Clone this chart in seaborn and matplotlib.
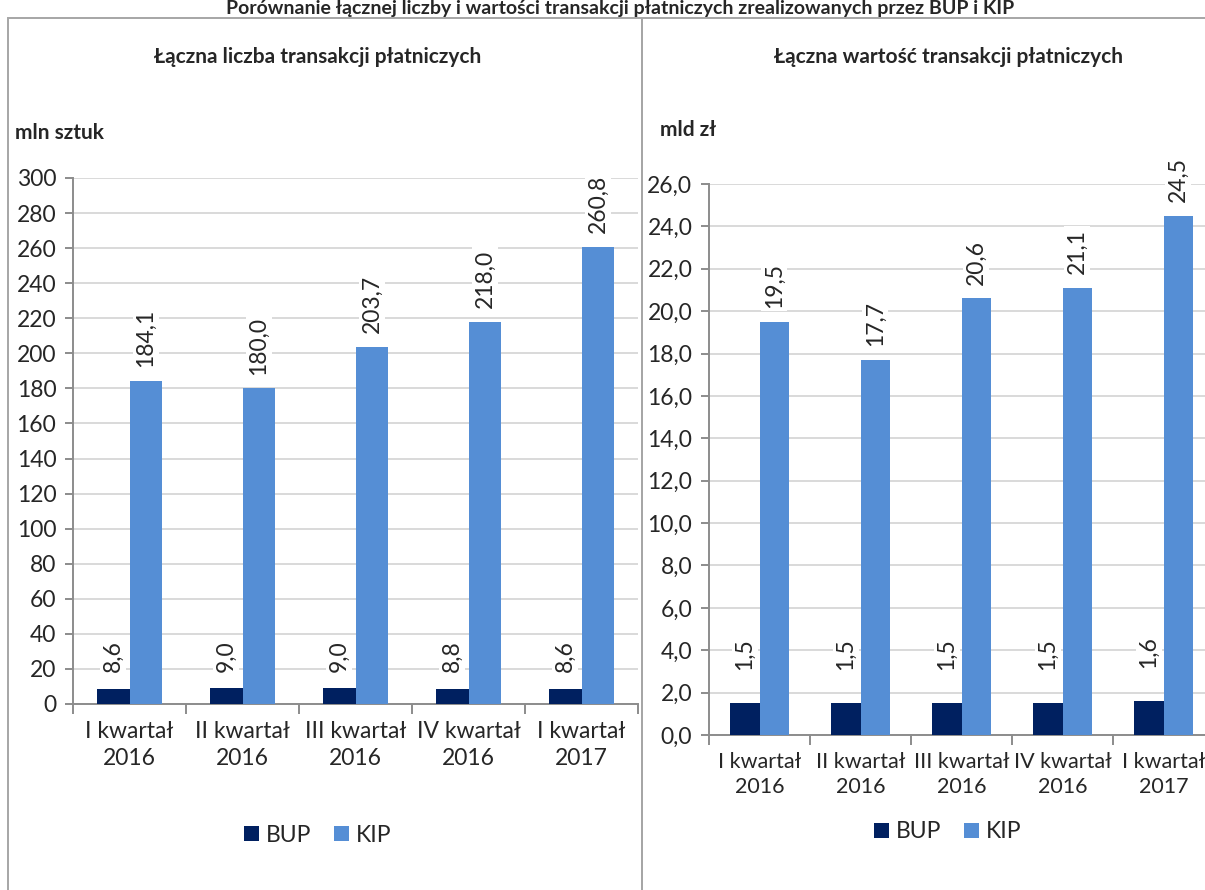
import matplotlib
matplotlib.use('Agg')
import matplotlib.pyplot as plt
import seaborn as sns
import pandas as pd
from matplotlib.patches import Rectangle

# dane
kwartaly = ['I kwartał\n2016', 'II kwartał\n2016', 'III kwartał\n2016',
            'IV kwartał\n2016', 'I kwartał\n2017']
serie = ['BUP', 'KIP']
liczba_bup = [8.6, 9.0, 9.0, 8.8, 8.6]
liczba_kip = [184.1, 180.0, 203.7, 218.0, 260.8]
wartosc_bup = [1.5, 1.5, 1.5, 1.5, 1.6]
wartosc_kip = [19.5, 17.7, 20.6, 21.1, 24.5]
ticki_liczba = list(range(0, 301, 20))
ticki_wartosc = [2.0 * i for i in range(14)]
kolory = ['#002060', '#558ED5']

sns.set_style('white')
plt.rcParams['font.family'] = ['Lato', 'DejaVu Sans']

FS = 16.5


def to_df(bup, kip):
    return pd.DataFrame({
        'kwartal': kwartaly * 2,
        'seria': ['BUP'] * len(bup) + ['KIP'] * len(kip),
        'wartosc': bup + kip,
    })


def draw_panel(ax, bup, kip, yticks, ylabels, legend_xy, fig, pad_bup, xfs):
    df = to_df(bup, kip)
    sns.barplot(data=df, x='kwartal', y='wartosc', hue='seria', hue_order=serie,
                palette=kolory, saturation=1, errorbar=None, width=0.58,
                linewidth=0, ax=ax, zorder=3)
    ax.set_xlim(-0.5, len(kwartaly) - 0.5)
    ax.set_ylim(yticks[0], yticks[-1])
    ax.set_yticks(yticks, ylabels)
    ax.set_xlabel('')
    ax.set_ylabel('')
    ax.yaxis.grid(True, color='#d9d9d9', lw=1.4, zorder=0)
    ax.set_axisbelow(True)
    for s in ['top', 'right']:
        ax.spines[s].set_visible(False)
    for s in ['left', 'bottom']:
        ax.spines[s].set_color('#8c8c8c')
        ax.spines[s].set_linewidth(1.4)
    ax.tick_params(axis='y', which='major', direction='out', length=6, width=1.4,
                   color='#8c8c8c', labelsize=FS, pad=6, left=True)
    ax.tick_params(axis='x', which='major', length=0, labelsize=xfs, pad=12)
    for lab in ax.get_xticklabels():
        lab.set_linespacing(1.35)
    ax.set_xticks([i - 0.5 for i in range(len(kwartaly) + 1)], minor=True)
    ax.tick_params(axis='x', which='minor', direction='out', length=7, width=1.4,
                   color='#8c8c8c', bottom=True)
    for cont, vals, pad in zip(ax.containers, [bup, kip], [pad_bup, 10]):
        labels = [f'{v:.1f}'.replace('.', ',') for v in vals]
        ax.bar_label(cont, labels=labels, rotation=90, padding=pad, fontsize=FS,
                     bbox=dict(facecolor='white', edgecolor='none', pad=2), zorder=4)
    sns.move_legend(ax, loc='center', bbox_to_anchor=legend_xy,
                    bbox_transform=fig.transFigure, ncol=2, frameon=False,
                    title=None, fontsize=FS, handlelength=0.65, handleheight=0.65,
                    handletextpad=0.3, columnspacing=1.0)


fig = plt.figure(figsize=(12.05, 8.9), dpi=100)

# ramki paneli
fig.patches.append(Rectangle((8 / 1205, -0.1), 634 / 1205, 1.1 - 18 / 890,
                             transform=fig.transFigure, fill=False,
                             edgecolor='#a6a6a6', lw=1.4))
fig.patches.append(Rectangle((642 / 1205, -0.1), 0.6, 1.1 - 18 / 890,
                             transform=fig.transFigure, fill=False,
                             edgecolor='#a6a6a6', lw=1.4))

ax1 = fig.add_axes([73 / 1205, 1 - 704 / 890, 565 / 1205, 526 / 890])
ax2 = fig.add_axes([709 / 1205, 1 - 735 / 890, 505 / 1205, 551 / 890])

draw_panel(ax1, liczba_bup, liczba_kip, ticki_liczba,
           [str(t) for t in ticki_liczba], (318 / 1205, 1 - 835 / 890), fig, 12, FS)
draw_panel(ax2, wartosc_bup, wartosc_kip, ticki_wartosc,
           [f'{t:.1f}'.replace('.', ',') for t in ticki_wartosc],
           (948 / 1205, 1 - 832 / 890), fig, 24, 15.5)

fig.text(620 / 1205, 1.0, 'Porównanie łącznej liczby i wartości transakcji płatniczych '
         'zrealizowanych przez BUP i KIP', ha='center', va='top', fontsize=14,
         fontweight='bold')
fig.text(318 / 1205, 1 - 57 / 890, 'Łączna liczba transakcji płatniczych',
         ha='center', va='center', fontsize=15, fontweight='bold')
fig.text(948 / 1205, 1 - 57 / 890, 'Łączna wartość transakcji płatniczych',
         ha='center', va='center', fontsize=15, fontweight='bold')
fig.text(15 / 1205, 1 - 133 / 890, 'mln sztuk', ha='left', va='center',
         fontsize=15, fontweight='bold')
fig.text(660 / 1205, 1 - 130 / 890, 'mld zł', ha='left', va='center',
         fontsize=15, fontweight='bold')

fig.savefig('out.png', dpi=100)
